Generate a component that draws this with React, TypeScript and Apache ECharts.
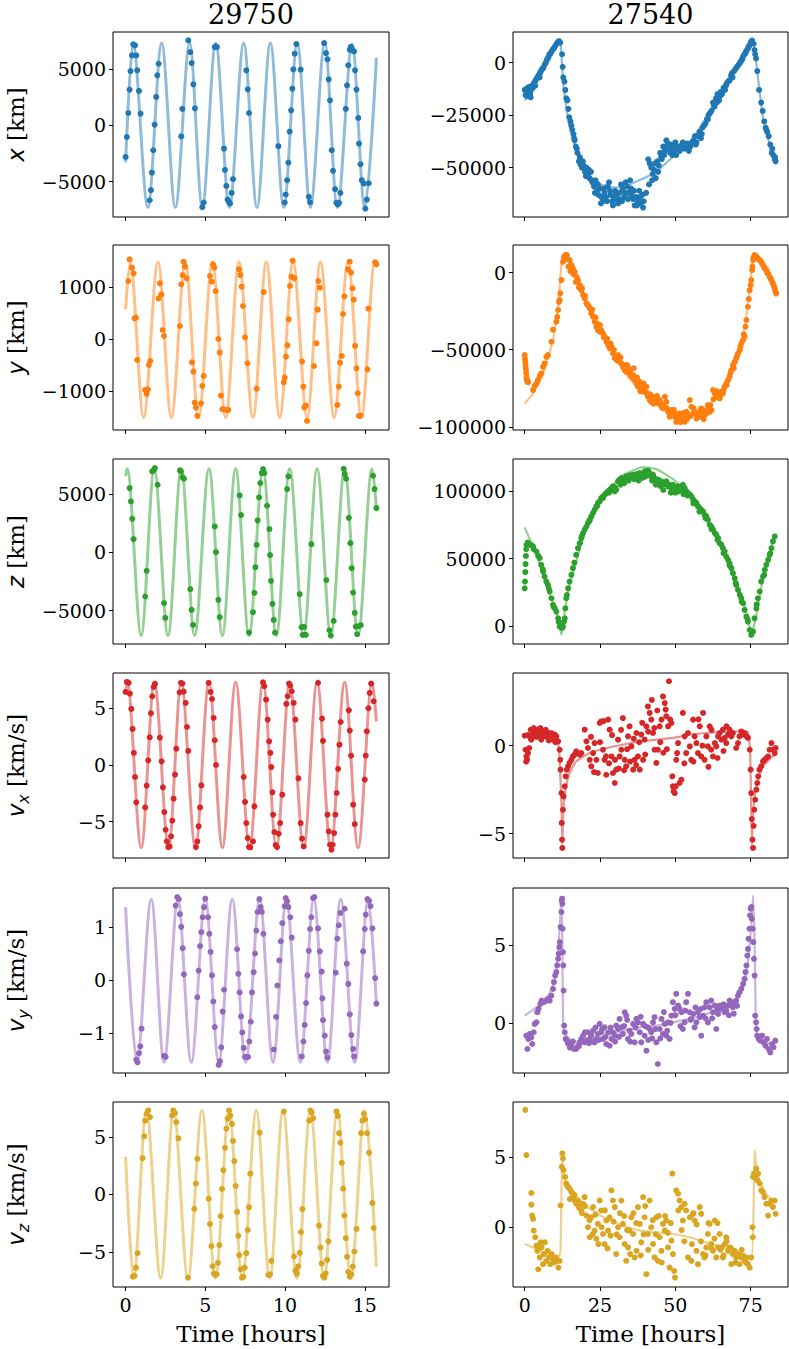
import { useEffect, useRef } from "react";
import * as echarts from "echarts";

// ---------------- DATA ----------------
// Left column (object 29750), time in hours
const xCurveL = [[0,-3300],[0.46,7300],[1.40,-7300],[2.26,7300],[3.12,-7300],[4.02,7300],[4.81,-7300],[5.65,7300],[6.51,-7300],[7.41,7300],[8.24,-7300],[9.08,7300],[9.92,-7300],[10.77,7300],[11.59,-7300],[12.49,7300],[13.28,-7300],[14.21,7200],[15.0,-7300],[15.73,6000]];
const xPtsL = [[0,-2810],[0.08,-1040],[0.17,1090],[0.25,3170],[0.31,4820],[0.40,6210],[0.48,7190],[0.59,7100],[0.67,6210],[0.73,4880],[0.84,3050],[0.94,1040],[1.51,-6660],[1.59,-5770],[1.65,-4200],[1.74,-2220],[1.82,60],[1.92,2520],[1.99,4440],[2.07,5470],[3.49,-980],[3.56,1450],[3.93,7550],[4.06,6510],[4.14,5530],[4.25,3640],[4.35,1510],[4.81,-7280],[4.90,-6860],[5.59,6950],[5.65,7010],[5.73,6950],[6.17,-2070],[6.23,-3970],[6.32,-5390],[6.40,-6600],[6.49,-6840],[6.55,-6950],[6.65,-6010],[6.74,-4790],[7.57,4880],[7.66,3200],[7.74,1090],[9.58,-1860],[9.98,-6860],[10.04,-6150],[10.13,-4880],[10.21,-3310],[10.29,-560],[10.38,1330],[10.46,3250],[10.52,4970],[10.61,6360],[10.71,7220],[10.98,4940],[11.49,-6360],[11.57,-6840],[12.45,7310],[12.57,6420],[12.66,5860],[12.74,4080],[12.82,2220],[12.93,-2220],[13.01,-4050],[13.14,-5680],[13.22,-6890],[13.31,-7040],[13.39,-6890],[13.47,-6010],[13.81,1450],[13.89,3550],[13.97,5330],[14.06,6720],[14.12,6980],[14.18,6810],[14.27,6600],[14.33,6570],[14.39,4880],[14.48,3170],[14.59,650],[14.64,-1630],[14.73,-3460],[14.81,-4880],[14.94,-5180],[15.04,-7400],[15.13,-6600],[15.25,-5150]];

const yCurveL = [[0,580],[0.29,1490],[1.13,-1505],[2.03,1490],[2.87,-1505],[3.74,1490],[4.58,-1505],[5.44,1490],[6.28,-1505],[7.11,1490],[7.99,-1505],[8.83,1490],[9.67,-1505],[10.50,1490],[11.38,-1505],[12.22,1490],[13.08,-1505],[13.95,1490],[14.79,-1505],[15.63,1490],[15.73,1460]];
const yPtsL = [[0.17,1122],[0.25,1538],[0.40,1378],[0.50,1269],[0.56,404],[0.65,417],[0.73,-397],[1.23,-974],[1.32,-1051],[1.40,-962],[1.46,-494],[1.55,-417],[2.07,788],[2.15,1077],[2.24,865],[2.32,179],[2.41,64],[3.41,256],[3.49,1058],[3.58,1237],[3.64,1494],[3.72,1397],[3.83,1173],[4.16,-442],[4.25,-622],[4.33,-1218],[4.41,-1314],[4.50,-1474],[4.73,-1231],[4.81,-897],[4.90,-705],[5.29,1218],[5.40,1109],[5.48,1442],[5.56,1378],[5.65,929],[5.82,6],[5.90,-256],[5.98,-1083],[6.07,-1346],[6.15,-1346],[6.32,-1359],[6.44,-1359],[7.11,1346],[7.20,1237],[7.28,1013],[7.36,641],[7.49,38],[7.64,-462],[8.22,-949],[8.66,910],[9.92,-827],[9.98,-737],[10.06,-333],[10.15,-115],[10.23,385],[10.31,1026],[10.40,1205],[10.48,1513],[10.59,1173],[11.07,-429],[11.15,-910],[11.21,-1308],[11.30,-1276],[11.38,-1571],[11.82,-513],[11.97,-77],[12.05,571],[12.09,1122],[12.18,994],[13.28,-1263],[13.37,-910],[13.45,-449],[13.56,-321],[13.64,487],[13.72,827],[13.95,1346],[14.06,1494],[14.14,1282],[14.23,981],[14.31,763],[14.39,-128],[14.48,-558],[14.56,-1038],[14.64,-1474],[14.73,-1468],[15.17,-577],[15.23,590],[15.65,1481],[15.73,1442]];

const zCurveL = [[0,6490],[0.10,7140],[0.98,-7140],[1.80,7140],[2.66,-7140],[3.49,7140],[4.33,-7140],[5.23,7140],[6.07,-7140],[6.90,7140],[7.74,-7140],[8.62,7140],[9.46,-7140],[10.29,7140],[11.17,-7140],[12.01,7140],[12.87,-7140],[13.74,7140],[14.58,-7140],[15.46,7140],[15.73,3710]];
const zPtsL = [[0.25,5486],[0.33,4343],[0.42,2857],[0.50,1114],[1.23,-3800],[1.32,-1600],[1.67,6914],[1.76,7029],[1.84,7200],[2.01,5771],[2.41,-4371],[2.49,-5629],[3.41,7000],[3.47,6914],[3.58,6400],[3.66,6286],[4.06,-3171],[4.14,-4943],[4.23,-6229],[5.59,2200],[5.67,0],[5.82,-4086],[5.90,-5571],[7.15,4857],[7.24,3171],[7.74,-6886],[7.99,-5143],[8.08,-3486],[8.14,-1286],[8.22,629],[8.28,2714],[8.37,4686],[8.45,5914],[8.54,6771],[8.62,7114],[8.70,6771],[8.87,3971],[9.02,1971],[9.06,-257],[9.12,-2457],[9.21,-4429],[9.29,-5800],[9.37,-6886],[10.13,5400],[10.21,6486],[10.92,-3600],[11.03,-6429],[11.11,-7086],[11.19,-6400],[11.30,-7086],[11.65,686],[12.59,-2400],[12.78,-6686],[12.87,-7143],[13.05,-5886],[13.68,7143],[13.74,6686],[13.83,6286],[14.00,2943],[14.10,771],[14.18,-1371],[14.27,-3457],[14.37,-5200],[14.44,-6371],[14.52,-7029],[14.60,-6343],[14.75,-6257],[15.52,6543],[15.61,5400],[15.73,3771]];

const vxCurveL = [[0,6.44],[0.10,7.3],[0.98,-7.3],[1.80,7.3],[2.70,-7.3],[3.49,7.3],[4.38,-7.3],[5.23,7.3],[6.07,-7.3],[6.90,7.3],[7.78,-7.3],[8.62,7.3],[9.46,-7.3],[10.29,7.3],[11.17,-7.3],[12.01,7.3],[12.87,-7.3],[13.74,7.3],[14.58,-7.3],[15.46,7.3],[15.73,3.85]];
const vxPtsL = [[0,6.44],[0.08,7.32],[0.19,7.24],[0.27,6.29],[0.36,4.94],[0.44,3.18],[0.52,1.06],[0.59,-1.06],[0.67,-3.29],[1.23,-3.74],[1.32,-1.82],[1.42,0.41],[1.51,2.44],[1.59,4.56],[1.67,6.06],[1.76,6.88],[1.84,7.15],[2.15,2.41],[2.26,0.32],[2.34,-1.97],[2.43,-4.15],[2.51,-5.71],[2.59,-6.74],[2.68,-7.24],[2.76,-7.18],[2.85,-6.29],[2.93,-4.91],[3.01,-2.97],[3.10,-0.85],[3.18,1.44],[3.39,6.41],[3.47,7.24],[3.56,7.18],[3.64,6.47],[3.77,5.47],[3.85,3.35],[3.93,1.24],[4.41,-7.24],[4.50,-6.74],[4.58,-5.41],[4.67,-3.74],[4.75,-1.79],[5.21,7.24],[5.33,6.44],[5.42,5.82],[5.52,4.15],[5.59,2.18],[5.67,0],[7.41,-1.06],[7.49,-3.26],[7.57,-5.12],[7.66,-6.44],[7.74,-7.24],[7.82,-7.26],[7.99,-6.74],[8.08,-3.65],[8.62,7.29],[8.70,6.94],[8.81,5.76],[8.91,4.0],[9.0,2.09],[9.08,1.06],[9.14,-0.18],[9.21,-2.41],[9.25,-4.38],[9.33,-5.91],[9.41,-7.06],[9.50,-7.24],[9.60,-6.06],[9.69,-5.12],[9.83,-2.62],[10.08,5.38],[10.17,6.06],[10.25,7.18],[10.33,7.0],[10.42,6.5],[10.54,5.47],[10.65,4.0],[10.84,-1.18],[10.98,-5.12],[11.07,-6.5],[11.17,-7.18],[12.07,7.24],[12.32,4.09],[12.38,2.12],[12.66,-4.38],[12.74,-5.85],[12.82,-7.03],[12.91,-7.47],[12.99,-7.03],[13.08,-6.0],[13.16,-4.38],[13.24,-2.47],[13.33,-0.35],[13.41,1.79],[13.49,3.79],[14.0,4.82],[14.06,3.03],[14.14,0.82],[14.27,-3.5],[14.37,-5.21],[15.0,-1.29],[15.06,0.82],[15.13,2.97],[15.23,5.0],[15.31,6.35],[15.40,7.18],[15.56,5.62]];

const vyCurveL = [[0,1.37],[0.71,-1.54],[1.61,1.52],[2.41,-1.54],[3.28,1.52],[4.12,-1.54],[5.0,1.52],[5.84,-1.54],[6.69,1.52],[7.53,-1.54],[8.41,1.52],[9.25,-1.54],[10.08,1.52],[10.96,-1.54],[11.80,1.52],[12.66,-1.54],[13.49,1.52],[14.37,-1.54],[15.21,1.52],[15.73,-0.45]];
const vyPtsL = [[0.67,-1.49],[0.75,-1.54],[0.84,-1.37],[0.92,-1.24],[1.0,-0.91],[2.41,-1.42],[2.51,-1.44],[3.14,1.40],[3.24,1.56],[3.33,1.52],[3.41,1.24],[3.49,1.0],[3.58,0.60],[3.66,0.11],[4.50,-0.32],[4.58,0.18],[4.67,0.64],[4.75,0.90],[4.83,1.18],[4.92,1.37],[5.0,1.53],[5.17,1.18],[5.25,0.87],[5.33,0.53],[5.42,0.09],[5.50,-0.40],[5.59,-0.88],[5.84,-1.59],[5.92,-1.52],[6.0,-1.26],[6.09,-0.59],[6.17,-0.18],[6.99,0.58],[7.07,0.12],[7.15,-0.23],[7.24,-0.68],[7.32,-0.98],[7.41,-1.27],[7.49,-1.44],[7.57,-1.44],[7.68,-1.44],[7.76,-1.15],[7.85,-0.78],[7.93,-0.23],[8.03,0.15],[8.12,0.50],[8.20,0.93],[8.28,1.28],[8.39,1.52],[8.47,1.37],[8.54,1.28],[8.64,0.87],[9.29,-1.30],[9.44,-0.69],[9.52,-0.10],[9.64,0.37],[9.73,0.73],[9.83,1.07],[9.98,1.39],[10.04,1.54],[10.13,1.48],[10.21,1.37],[10.33,1.18],[10.42,0.80],[11.05,-1.43],[11.15,-1.15],[11.23,-0.84],[11.32,-0.43],[11.40,0.09],[11.49,0.55],[11.57,0.96],[11.65,1.18],[11.76,1.54],[11.84,1.56],[12.07,0.97],[12.18,0.54],[12.30,0.16],[12.34,-0.34],[12.38,-0.75],[12.49,-1.04],[12.57,-1.34],[12.66,-1.45],[13.18,0.14],[13.28,0.78],[13.37,1.03],[13.47,1.26],[13.74,1.34],[13.87,0.31],[13.97,-0.07],[14.06,-0.64],[14.16,-1.03],[14.27,-1.29],[14.33,-1.43],[14.90,0.54],[15.0,0.96],[15.06,1.23],[15.17,1.52],[15.27,1.49],[15.36,1.39],[15.48,0.97],[15.65,0.04],[15.73,-0.44]];

const vzCurveL = [[0,3.27],[0.50,-7.29],[1.30,7.29],[2.20,-7.29],[3.01,7.29],[3.91,-7.29],[4.79,7.29],[5.63,-7.29],[6.49,7.29],[7.32,-7.29],[8.20,7.29],[9.04,-7.29],[9.87,7.29],[10.75,-7.29],[11.59,7.29],[12.45,-7.29],[13.28,7.29],[14.12,-7.29],[15.0,7.29],[15.73,-6.3]];
const vzPtsL = [[0.46,-7.14],[0.56,-7.08],[0.65,-6.36],[0.75,-5.10],[1.07,3.15],[1.17,5.04],[1.23,6.41],[1.32,7.0],[1.42,7.29],[1.53,6.71],[2.91,6.85],[2.99,7.29],[3.10,7.06],[3.18,6.27],[3.31,4.87],[3.91,-7.23],[4.31,-1.25],[4.41,0.93],[4.50,3.09],[5.21,-0.38],[5.29,-2.57],[5.38,-4.49],[5.46,-6.24],[5.54,-6.88],[5.63,-7.0],[5.71,-6.94],[5.79,-5.95],[5.88,-4.40],[5.96,-1.90],[6.05,0.47],[6.13,2.10],[6.23,4.05],[6.32,5.71],[6.40,6.56],[6.49,7.29],[6.57,6.85],[6.67,6.12],[6.74,4.64],[6.82,2.89],[6.90,0.73],[6.99,-1.52],[7.07,-3.59],[7.13,-5.28],[7.22,-6.50],[7.30,-7.23],[7.38,-7.14],[7.47,-6.36],[7.57,-5.10],[7.66,-3.09],[7.74,-1.11],[7.82,1.8],[8.41,5.36],[8.95,-7.0],[9.06,-6.94],[9.14,-5.77],[9.92,7.20],[10.56,-5.39],[10.65,-6.62],[10.73,-6.88],[10.82,-6.24],[10.92,-5.07],[11.0,-3.27],[11.09,-1.28],[11.51,6.41],[11.59,7.29],[11.67,7.11],[11.76,6.62],[12.13,-2.71],[12.22,-4.61],[12.30,-6.01],[12.38,-7.08],[12.47,-7.23],[12.55,-6.85],[12.64,-5.69],[12.72,-4.08],[13.22,7.20],[13.31,6.82],[13.39,5.31],[13.47,4.49],[13.56,2.74],[13.64,0.50],[13.72,-1.84],[13.81,-3.79],[13.89,-5.42],[13.97,-6.73],[14.06,-7.14],[14.16,-6.94],[14.25,-6.27],[14.35,-4.96],[14.48,-3.0],[14.77,5.31],[14.85,6.41],[14.94,7.0],[15.02,6.53],[15.15,5.31],[15.27,3.62],[15.48,-0.76],[15.56,-2.92]];

// Right column (object 27540)
const xCurveR = [[0,-18000],[3,-11000],[6,-4000],[9,3500],[11.3,10000],[12.0,8000],[12.7,-8400],[14.4,-26700],[17.1,-41700],[19.5,-49000],[21.6,-54000],[24.5,-57500],[27.1,-58800],[30,-59500],[33,-59000],[36.5,-57000],[39.3,-55200],[43.7,-52000],[49.2,-44900],[54.8,-38600],[60.3,-25900],[65.8,-11600],[71.3,1100],[75.2,10300],[75.8,10000],[76.9,-500],[78,-14000],[79.1,-25900],[82.4,-44900],[83.4,-48000]];
const xPtsR = [[0.0,-13000],[0.3,-15500],[0.6,-12500],[0.9,-16000],[1.0,-12000],[1.2,-14000],[1.5,-11500],[1.8,-15000],[2.0,-16500],[2.1,-13000],[2.4,-11000],[2.7,-12000],[3.0,-10000],[3.4,-9000],[3.5,-11000],[3.8,-8000],[4.2,-7000],[4.6,-6000],[5.0,-5000],[5.0,-7000],[5.4,-4000],[5.8,-3000],[6.2,-2500],[6.6,-1000],[7.0,0],[7.4,1500],[7.8,2500],[8.2,4000],[8.6,4500],[9.0,5500],[9.4,6500],[9.8,7000],[10.2,8000],[10.6,9000],[11.0,9800],[11.4,10300],[11.8,9500],[12.4,4000],[12.8,-7000],[13.2,-9000],[13.8,-17000],[14.2,-18000],[14.8,-26000],[15.2,-28000],[15.8,-32000],[16.2,-34000],[16.6,-37000],[17.0,-40000],[17.5,-43000],[18.0,-47000],[18.5,-48500],[19.0,-50000],[19.5,-49000],[20.0,-52000],[20.5,-50000],[21.0,-53000],[21.5,-55000],[22.0,-52000],[22.5,-57000],[23.0,-59000],[23.5,-56000],[24.0,-61000],[24.5,-63000],[25.0,-60000],[25.5,-64000],[26.0,-66000],[26.5,-62000],[27.0,-64000],[27.5,-59000],[28.0,-57000],[28.5,-63000],[29.0,-66000],[29.5,-64000],[30.0,-61000],[30.5,-65000],[31.0,-67000],[31.5,-62000],[32.0,-58000],[32.5,-60000],[33.0,-64000],[33.5,-57000],[34.0,-59000],[34.5,-62000],[35.0,-56000],[35.5,-63000],[36.0,-65000],[36.5,-68000],[37.0,-64000],[37.5,-66000],[38.0,-61000],[38.5,-67000],[39.0,-63000],[39.5,-66000],[41.0,-46000],[41.5,-48000],[42.0,-50000],[42.5,-53000],[43.0,-51000],[43.5,-55000],[44.0,-47000],[44.5,-49000],[45.0,-43000],[45.5,-46000],[46.0,-40000],[46.5,-42000],[47.0,-37000],[47.5,-38500],[48.0,-41000],[48.5,-39000],[49.0,-44000],[49.5,-42000],[50.0,-38000],[50.5,-41000],[51.0,-40000],[52.0,-39500],[53.0,-41000],[54.0,-38500],[55.0,-40000],[56.0,-37000],[56.5,-35000],[57.0,-38000],[58.0,-33000],[58.5,-36000],[59.0,-31000],[60.0,-29000],[60.5,-27000],[61.0,-25000],[62.0,-23000],[62.5,-19000],[63.0,-21000],[63.5,-17000],[64.0,-15000],[64.5,-18000],[65.0,-14000],[66.0,-12000],[66.5,-13000],[67.0,-10000],[68.0,-8500],[68.5,-6000],[69.0,-7000],[70.0,-3000],[71.0,-1000],[72.0,1000],[72.5,3000],[73.0,4000],[73.5,5500],[74.0,6500],[74.5,8000],[75.0,9500],[75.5,10500],[76.0,9000],[76.3,6000],[76.8,2000],[77.2,-4000],[77.8,-13000],[79.0,-23000],[79.5,-28000],[80.0,-31000],[80.5,-33000],[81.0,-35000],[81.5,-39000],[82.0,-43000],[82.5,-44000],[83.0,-46000],[83.3,-47000],
[12.6,-2000],[13.5,-13000],[14.5,-22000],[15.5,-30000],[16.4,-36000],[17.3,-41000],[18.3,-45000],[19.3,-47000],[20.3,-54000],[21.3,-51000],[22.2,-56000],[23.3,-62000],[24.3,-58000],[25.3,-67000],[26.3,-60000],[27.3,-66000],[28.3,-61000],[29.3,-68000],[30.3,-63000],[31.3,-65000],[32.3,-66000],[33.3,-62000],[34.3,-65000],[35.3,-60000],[36.3,-61000],[37.3,-68000],[38.3,-64000],[39.3,-69000],[40.3,-62000],[41.3,-58000],[42.3,-56000],[43.3,-48000],[44.3,-52000],[45.3,-45000],[46.3,-44000],[47.3,-40000],[48.3,-43000],[49.3,-40000],[50.3,-44000],[51.5,-42000],[52.5,-38000],[53.5,-40500],[54.5,-42000],[55.5,-38000],[56.8,-39000],[57.5,-35000],[58.8,-34000],[59.5,-30000],[60.8,-27000],[61.5,-24000],[62.8,-20000],[63.8,-19000],[64.8,-16000],[65.5,-15000],[66.8,-11000],[67.5,-9000],[68.8,-5000],[69.5,-4000],[70.5,-2000],[71.5,0],[72.3,2000],[73.3,4500],[74.3,7500],[75.2,10000],[76.5,4000],[78.5,-19000],[80.2,-32000],[82.2,-41000],[83.1,-45000]];

const yCurveR = [[0,-84900],[2.8,-78400],[6.1,-65400],[9.4,-43700],[11.1,-22100],[12.2,6000],[12.7,11500],[14.9,6000],[17.1,-2600],[21.6,-24200],[27.1,-43700],[32.6,-63200],[38.2,-76200],[43.7,-84900],[49.2,-90300],[54.8,-91400],[60.3,-87000],[65.8,-76200],[70.2,-58900],[73.6,-28600],[75.2,-400],[76.1,12100],[78.0,8200],[80.2,-400],[83.5,-15600]];
const yPtsR = [[0,-53500],[0.1,-56000],[0.2,-58000],[0.3,-60000],[0.4,-62500],[0.5,-65000],[0.6,-67500],[0.7,-69500],[0.9,-70800],[1.2,-71000],[2.8,-76200],[3.3,-73500],[3.9,-71900],[4.4,-69700],[5.0,-67000],[5.5,-65400],[6.1,-61100],[6.6,-58900],[7.2,-54600],[7.7,-53500],[8.9,-44800],[9.4,-37000],[10.5,-31800],[10.8,-28600],[11.1,-24200],[11.4,-19000],[11.6,-17800],[11.8,-13400],[12.2,-4800],[12.7,7100],[13.5,11500],[14.0,11500],[14.9,8200],[15.5,5000],[16.0,2800],[16.6,600],[17.2,-2600],[17.7,-4800],[18.3,-8000],[18.8,-11300],[19.4,-14500],[19.9,-16700],[20.5,-19900],[21.0,-21000],[21.6,-23200],[22.1,-26400],[22.7,-28600],[23.2,-31800],[23.8,-35100],[24.3,-37200],[24.9,-38300],[25.4,-37200],[26.0,-39400],[26.6,-41600],[27.1,-44800],[27.7,-47000],[28.2,-49100],[28.8,-48100],[29.3,-52400],[29.9,-55600],[30.4,-54600],[31.0,-53500],[31.5,-57800],[32.1,-58900],[32.6,-61100],[33.2,-63200],[33.7,-64300],[34.3,-62100],[34.9,-65400],[35.4,-67500],[36.0,-66500],[36.5,-69700],[37.1,-71900],[37.6,-74000],[38.2,-70800],[38.7,-74000],[39.3,-76200],[39.8,-77300],[40.4,-74000],[40.9,-80500],[41.5,-82700],[42.0,-83800],[42.6,-80500],[43.1,-81600],[43.7,-83800],[44.3,-84900],[44.8,-82700],[45.4,-87000],[45.9,-88100],[46.5,-80500],[47.0,-83800],[47.6,-90300],[48.1,-93500],[48.7,-89200],[49.2,-91400],[49.8,-93500],[50.3,-96800],[50.9,-94600],[51.4,-91400],[52.0,-95700],[52.5,-93500],[53.1,-96800],[53.7,-90300],[54.2,-92500],[54.8,-82700],[55.3,-87000],[55.9,-91400],[56.4,-90300],[57.0,-94600],[57.5,-91400],[58.1,-93500],[58.6,-88100],[59.2,-90300],[59.7,-92500],[60.3,-89200],[60.8,-85900],[61.4,-90300],[62.0,-89200],[62.5,-76200],[63.1,-78400],[63.6,-80500],[64.2,-79500],[64.7,-81600],[65.3,-77300],[65.8,-78400],[66.4,-74000],[66.9,-71900],[67.5,-69700],[68.0,-67500],[68.6,-63200],[69.1,-60000],[69.7,-57800],[70.2,-55600],[70.8,-52400],[71.4,-50200],[71.9,-45900],[72.5,-43700],[73.0,-41600],[73.6,-30700],[74.1,-22100],[74.7,-11300],[75.2,-4800],[75.5,1700],[75.8,8200],[76.3,11500],[76.9,10400],[77.4,9300],[78.0,8200],[78.5,7100],[79.1,5000],[79.7,2800],[80.2,1700],[80.8,-400],[81.3,-2600],[81.9,-4800],[82.4,-6900],[83.0,-10200],[83.5,-13400],
[13.0,10000],[13.8,9000],[14.5,4000],[15.2,1000],[16.2,-1000],[17.0,-6000],[18.0,-9500],[19.0,-10000],[20.0,-15000],[21.3,-22000],[22.4,-24000],[23.5,-29000],[24.0,-33000],[25.0,-34000],[26.3,-42000],[27.4,-43000],[28.5,-46000],[29.6,-50000],[30.7,-57000],[31.8,-55000],[32.9,-60000],[34.0,-60000],[35.1,-63000],[36.2,-62000],[37.3,-68000],[38.4,-77000],[39.5,-72000],[40.6,-78000],[41.7,-79000],[42.8,-85000],[43.9,-80000],[45.0,-84000],[46.1,-86000],[47.2,-88000],[48.3,-91000],[49.5,-89000],[50.6,-92000],[51.7,-97000],[52.8,-91000],[53.9,-95000],[55.0,-93000],[56.1,-88000],[57.2,-92000],[58.3,-90000],[59.4,-95000],[60.5,-91000],[61.6,-86000],[62.7,-82000],[63.8,-77000],[64.9,-80000],[66.0,-76000],[67.0,-73000],[68.3,-65000],[69.4,-62000],[70.5,-54000],[71.6,-48000],[72.7,-40000],[73.3,-35000],[74.4,-17000],[75.0,-8000],[75.6,4000],[76.0,10000],[76.6,11000],[77.7,8500],[78.8,6000],[79.4,4000],[80.5,0],[81.6,-3500],[82.7,-8500],[83.2,-12000]];

const zCurveR = [[0,73200],[3.9,52800],[7.2,30500],[10.5,10700],[12.2,-6700],[13.3,10700],[14.9,30500],[17.1,47900],[20.5,73900],[23.8,88800],[27.1,98700],[32.6,112000],[39.3,118000],[43.7,116500],[49.2,109000],[54.8,97500],[60.3,81400],[65.8,57800],[71.35,25600],[74.1,5700],[75.2,-6700],[76.9,8200],[79.1,35500],[83.0,67700]];
const zPtsR = [[0.0,28000],[0.1,33000],[0.2,40000],[0.3,46000],[0.4,52000],[0.5,57000],[0.6,60000],[1.0,62000],[1.7,60500],[2.2,60000],[2.8,59000],[3.9,55300],[5.0,50400],[5.5,45400],[6.1,40400],[6.6,36700],[7.2,33000],[7.7,30500],[8.3,25600],[8.9,20600],[9.4,15600],[10.0,13100],[10.5,10700],[11.1,5700],[11.6,-500],[12.2,-500],[12.7,-500],[13.3,5700],[13.5,13100],[13.8,20600],[14.4,28000],[14.9,33000],[15.5,38000],[16.0,42900],[17.1,52800],[17.7,57800],[18.3,61500],[18.8,65300],[19.4,69000],[19.9,71500],[20.5,73900],[21.0,76400],[21.6,78900],[22.1,81400],[22.7,83900],[23.2,86300],[23.8,88800],[24.3,91300],[24.9,92500],[25.4,95000],[26.0,96300],[26.6,97500],[27.1,98700],[27.7,100000],[28.2,101200],[28.8,102500],[29.3,103700],[29.9,100000],[30.4,101200],[31.0,107400],[31.5,108700],[32.1,109900],[32.6,108700],[33.2,109900],[33.7,111100],[34.3,110400],[34.9,111900],[35.4,111100],[36.0,112400],[36.5,111900],[37.1,112900],[37.6,111100],[38.2,113600],[38.7,112400],[39.3,112900],[39.8,114900],[40.4,113600],[40.9,115400],[41.5,113600],[42.0,111100],[42.6,112400],[43.1,109900],[43.7,107400],[44.3,108700],[44.8,106200],[45.4,107400],[45.9,104900],[46.5,106200],[47.0,107400],[47.6,103700],[48.1,104900],[48.7,102500],[49.2,104900],[49.8,102500],[50.3,101200],[50.9,103700],[51.4,102500],[52.0,101200],[52.5,104900],[53.1,102500],[53.7,100000],[54.2,98700],[54.8,97500],[55.3,96300],[55.9,93800],[56.4,92500],[57.0,91300],[57.5,88800],[58.1,87600],[58.6,86300],[59.2,85100],[59.7,82600],[60.3,81400],[60.8,78900],[61.4,75200],[62.0,73900],[62.5,71500],[63.1,69000],[63.6,67700],[64.2,65300],[64.7,61500],[65.3,60300],[65.8,57800],[66.4,55300],[66.9,51600],[67.5,49100],[68.0,46600],[68.6,42900],[69.1,39200],[69.7,35500],[70.2,30500],[70.8,26800],[71.4,23100],[71.9,20600],[72.5,16900],[73.0,11900],[73.6,6900],[74.1,3200],[74.7,-3000],[75.2,-6700],[75.8,-4200],[76.3,5700],[76.9,13100],[77.4,20600],[78.0,25600],[78.5,33000],[79.1,36700],[79.7,41700],[80.2,45400],[80.8,49100],[81.3,52800],[81.9,57800],[82.4,62800],[83.0,66500],
[28.0,99000],[30.0,103000],[31.8,105000],[33.0,106000],[34.5,108000],[36.3,109000],[37.8,108000],[39.0,110000],[40.0,111000],[41.0,112000],[42.3,108000],[43.5,105000],[45.0,104000],[46.0,101000],[47.3,105000],[48.5,99000],[50.0,99000],[51.0,100000],[52.7,98000],[54.0,97000],[56.0,91000],[58.0,85000],[60.0,80000],[62.0,72000],[64.0,64000],[66.0,54000],[68.0,45000],[70.0,32000],[72.0,18000],[74.0,5000],[75.5,-5000],[77.0,16000],[79.5,38000],[81.5,54000],[14.0,23000],[16.5,47000],[19.0,67000],[21.5,78000],[24.0,89000],[26.0,95000],[3.0,57000],[4.5,52000],[6.0,42000],[8.0,28000],[9.7,14000],[11.3,3000],[12.4,-1500],[13.0,3000]];

const vxCurveR = [[0,0.68],[5,0.62],[9.4,0.53],[11.1,0.15],[11.6,-0.8],[12.2,-3.26],[12.5,-5.6],[12.9,-3.45],[13.8,-2.3],[14.9,-1.55],[17.1,-0.89],[21.6,-0.42],[27.1,-0.13],[32.6,0.06],[38.2,0.25],[43.7,0.34],[49.2,0.44],[54.8,0.63],[60.3,0.72],[65.8,0.78],[71.3,0.81],[74.1,0.76],[74.9,-0.8],[75.4,-5.6],[75.9,-3.64],[76.9,-2.31],[79.1,-1.17],[83.0,-0.51]];
const vxPtsR = [[0,0.57],[0.3,-0.23],[0.5,-0.9],[0.6,-0.61],[0.8,-0.8],[1.0,0.6],[1.1,-0.42],[1.5,-0.13],[1.9,0.44],[2.0,0.9],[2.2,0.34],[2.8,0.72],[3.0,1.0],[3.3,0.53],[3.9,0.81],[4.0,0.5],[4.4,0.91],[5.0,0.63],[5.2,1.0],[5.5,0.34],[6.0,0.8],[6.1,0.53],[6.6,0.81],[7.0,0.9],[7.2,0.63],[7.7,0.44],[8.0,0.3],[8.3,0.72],[8.9,0.53],[9.0,0.7],[9.4,0.34],[10.0,0.63],[10.2,0.2],[10.5,0.53],[11.1,0.25],[11.6,-0.23],[11.8,-0.80],[11.9,-1.36],[12.2,-2.69],[12.3,-4.39],[12.4,-5.34],[12.5,-5.81],[12.7,-3.64],[12.9,-2.88],[13.3,-2.31],[13.6,-1.74],[14.0,-1.36],[14.4,-1.17],[14.9,-0.98],[15.5,-0.80],[16.0,-0.61],[16.6,-0.51],[17.1,-0.32],[17.7,-0.42],[18.3,-0.51],[18.8,-0.42],[19.9,0.91],[20.5,0.25],[21.0,-0.13],[21.6,-0.80],[22.0,0.5],[22.1,-1.17],[22.7,-0.42],[23.0,-1.5],[23.2,0.15],[23.8,-0.80],[24.3,-1.55],[24.9,1.29],[25.0,0.2],[25.4,1.38],[26.0,-0.23],[26.2,1.4],[26.5,-0.80],[27.0,-0.6],[27.1,-1.65],[27.7,1.48],[28.0,-1.0],[28.2,0.91],[28.8,-0.61],[29.0,0.6],[29.3,-1.55],[29.9,-2.12],[30.0,-0.8],[30.4,-1.36],[31.0,0.34],[31.2,-1.3],[31.5,-0.61],[32.0,0.9],[32.1,-0.23],[32.6,1.57],[33.0,-1.4],[33.2,-0.80],[33.7,-1.17],[34.0,-0.2],[34.3,0.53],[34.8,1.10],[35.0,-0.9],[35.4,-0.04],[36.0,-1.36],[36.2,0.4],[36.5,-0.80],[37.0,-1.1],[37.1,0.72],[37.6,-0.61],[38.0,0.2],[38.2,-1.36],[38.7,0.63],[39.0,1.3],[39.3,-0.80],[39.8,0.34],[40.0,-0.5],[40.4,1.10],[40.9,2.23],[41.0,0.8],[41.5,1.86],[42.0,1.48],[42.2,2.6],[42.6,0.72],[43.0,1.0],[43.1,-0.23],[43.7,-0.98],[44.0,2.0],[44.2,-0.23],[44.8,1.10],[45.0,0.2],[45.4,1.48],[45.9,2.80],[46.0,-0.4],[46.5,2.42],[46.8,2.05],[47.0,1.67],[47.2,-0.2],[47.6,1.10],[47.9,3.66],[48.3,1.48],[48.7,1.29],[49.0,-1.74],[49.2,-2.31],[49.4,-2.59],[49.8,-2.69],[50.1,-2.31],[50.3,-0.80],[50.6,-0.42],[50.9,0.15],[51.4,-2.12],[52.0,-1.93],[52.5,1.86],[53.0,-1.0],[53.1,0.53],[53.6,-0.42],[54.2,0.72],[54.8,-0.04],[55.3,-0.80],[55.9,1.48],[56.0,-0.9],[56.4,0.53],[57.0,0.15],[57.5,-0.42],[57.7,1.5],[58.1,1.10],[58.6,-0.61],[59.0,0.0],[59.2,1.86],[59.7,-0.80],[60.3,0.53],[60.8,-0.04],[61.0,-1.2],[61.4,1.10],[61.9,-0.23],[62.0,0.9],[62.5,-0.61],[63.1,0.15],[63.6,-0.04],[64.0,-0.7],[64.2,0.53],[64.7,0.72],[65.3,0.34],[65.8,0.91],[66.0,-0.3],[66.4,0.44],[66.9,0.15],[67.0,1.1],[67.5,0.63],[68.0,0.91],[68.6,0.53],[69.1,0.72],[70.2,-0.13],[70.8,0.15],[71.3,0.53],[71.9,0.81],[72.5,0.63],[73.0,0.72],[73.6,0.53],[74.1,0.44],[74.7,-0.23],[75.0,-1.36],[75.2,-2.69],[75.4,-4.17],[75.6,-5.34],[75.8,-5.81],[76.0,-4.55],[76.2,-3.64],[76.5,-3.07],[76.9,-2.50],[77.2,-2.12],[77.5,-1.74],[77.9,-1.36],[78.5,-1.17],[79.1,-0.89],[79.6,-0.80],[80.2,-0.70],[80.8,-0.61],[81.3,-0.23],[81.9,0.15],[82.4,-0.23],[83.0,-0.42],[83.3,-0.13]];

const vyCurveR = [[0,0.47],[3.9,1.01],[7.2,1.55],[9.4,2.41],[10.5,3.49],[11.6,6.08],[12.2,8.12],[12.5,5.22],[12.7,0.47],[13.1,-0.60],[14.9,-1.03],[18.3,-1.25],[21.6,-1.14],[27.1,-0.82],[32.6,-0.50],[38.2,-0.28],[43.7,-0.17],[49.2,0.04],[54.8,0.26],[60.3,0.58],[65.8,0.91],[70.2,1.55],[72.5,2.41],[74.1,3.92],[75.2,6.29],[75.8,8.23],[76.3,5.22],[76.7,0.47],[77.1,-0.82],[80.2,-1.25],[83.0,-1.47]];
const vyPtsR = [[0.55,-0.82],[0.9,-1.68],[1.2,-1.03],[1.66,-0.71],[2.2,-0.93],[2.5,-1.36],[3.0,-0.60],[3.3,-0.06],[3.9,0.04],[4.2,0.69],[4.6,0.91],[5.2,1.23],[5.6,1.44],[6.1,1.34],[6.6,1.38],[7.2,1.44],[7.7,1.55],[8.3,1.44],[8.85,1.77],[9.4,2.20],[9.7,2.63],[10.1,3.06],[10.5,3.28],[10.8,3.71],[11.1,4.14],[11.3,4.46],[11.5,4.89],[11.7,5.22],[11.9,6.19],[12.2,7.16],[12.3,7.91],[12.4,8.02],[12.5,7.69],[12.6,6.08],[12.7,4.57],[12.8,3.71],[12.9,2.09],[13.1,-0.17],[13.3,-0.60],[13.6,-1.03],[14.0,-1.14],[14.3,-1.3],[14.7,-1.36],[15.0,-1.6],[15.5,-1.47],[16.0,-1.2],[16.3,-1.68],[17.1,-1.68],[17.7,-1.47],[18.0,-1.5],[18.3,-1.25],[18.8,-1.03],[19.0,-1.2],[19.4,-0.82],[19.9,-1.25],[20.0,-0.6],[20.5,-1.14],[21.0,-0.60],[21.3,-1.3],[21.6,-1.03],[22.1,-0.82],[22.4,-1.2],[22.7,-0.50],[23.2,-1.25],[23.5,-0.3],[23.8,-1.03],[24.3,-0.71],[24.6,-1.1],[24.9,-0.06],[25.4,-0.60],[25.7,-0.4],[26.0,-1.03],[26.5,-0.28],[26.8,-0.9],[27.1,-1.36],[27.7,-0.60],[28.2,-1.47],[28.5,-0.3],[28.8,-1.03],[29.3,-0.60],[29.9,-0.82],[30.0,-1.2],[30.4,-0.17],[31.0,-0.39],[31.3,-0.9],[31.5,0.26],[32.1,-0.28],[32.6,-0.71],[33.0,-0.2],[33.2,0.69],[33.7,0.47],[34.0,0.2],[34.3,-1.03],[34.8,-0.50],[35.0,-1.2],[35.4,-0.71],[36.0,-0.06],[36.5,-1.25],[36.8,-0.3],[37.1,0.26],[37.6,0.04],[38.2,-0.60],[38.5,0.4],[38.7,-1.25],[39.3,-0.06],[39.8,-0.82],[40.0,-0.2],[40.4,-1.79],[40.9,-0.28],[41.0,-1.1],[41.5,-0.39],[42.0,-0.60],[42.3,-1.0],[42.6,0.04],[43.1,0.37],[43.4,-0.4],[43.7,-1.25],[44.2,-2.65],[44.8,-0.39],[45.0,-1.0],[45.4,0.26],[45.9,-0.71],[46.2,0.7],[46.5,-0.06],[47.0,-0.82],[47.3,-0.5],[47.6,0.04],[48.1,-1.03],[48.4,0.0],[48.7,0.47],[49.2,1.34],[49.8,0.91],[50.0,0.5],[50.3,1.88],[50.9,1.12],[51.4,0.91],[51.7,-0.2],[52.0,0.69],[52.5,-0.39],[53.1,0.04],[53.3,0.8],[53.6,1.34],[54.2,1.88],[54.8,0.69],[55.0,0.2],[55.3,0.26],[55.9,0.58],[56.4,-0.28],[56.7,1.0],[57.0,0.04],[57.5,0.69],[58.1,0.37],[58.4,0.9],[58.6,-0.82],[59.2,0.47],[59.7,1.01],[60.0,0.3],[60.3,1.34],[60.8,0.04],[61.4,1.01],[61.9,1.44],[62.2,0.3],[62.5,0.69],[63.1,1.12],[63.6,-0.39],[64.0,0.9],[64.2,0.58],[64.7,1.12],[65.3,0.91],[65.8,1.01],[66.0,1.2],[66.4,0.69],[66.9,0.80],[67.5,1.12],[67.8,0.5],[68.0,1.44],[68.6,1.34],[69.1,1.01],[69.4,0.6],[69.7,1.23],[70.2,1.44],[70.5,1.1],[70.8,1.77],[71.3,1.98],[71.9,2.20],[72.5,2.52],[73.0,2.84],[73.3,3.28],[73.6,3.71],[73.9,4.35],[74.1,4.78],[74.3,5.43],[74.6,6.08],[74.8,6.94],[75.0,7.37],[75.2,7.48],[75.4,6.72],[75.7,6.08],[75.9,5.22],[76.1,4.14],[76.3,3.06],[76.5,0.47],[76.8,0.04],[77.0,-0.39],[77.2,-0.82],[77.7,-1.03],[78.2,-1.14],[78.8,-0.82],[79.3,-1.25],[79.9,-1.47],[80.4,-1.03],[81.0,-1.68],[81.5,-1.90],[82.1,-1.36],[82.6,-1.57],[83.2,-1.14]];

const vzCurveR = [[0,-1.19],[2.8,-1.43],[7.2,-1.90],[11.1,-2.14],[11.9,-1.67],[12.4,5.0],[12.7,4.05],[13.8,3.10],[16.0,2.62],[18.3,1.90],[21.6,1.31],[27.1,0.60],[32.6,0.12],[38.2,-0.24],[43.7,-0.36],[49.2,-0.48],[54.8,-0.71],[60.3,-1.07],[65.8,-1.43],[71.3,-1.90],[75.2,-2.26],[76.0,1.67],[76.3,5.48],[76.9,4.29],[78.0,3.33],[80.2,2.38],[83.0,1.67]];
const vzPtsR = [[0.2,8.33],[0.55,5.12],[2.2,2.43],[2.2,1.60],[2.5,0.83],[2.8,0.60],[3.0,-0.24],[3.5,-0.71],[3.9,-1.31],[4.2,-1.67],[4.5,-2.98],[5.0,-2.14],[5.3,-1.07],[5.6,-1.43],[6.1,-2.62],[6.4,-1.90],[6.7,-1.07],[7.2,-2.38],[7.6,-1.67],[8.1,-2.14],[8.5,-2.62],[9.0,-1.90],[9.4,-2.26],[9.8,-2.50],[10.3,-2.14],[10.7,-2.38],[11.2,-2.86],[11.6,-2.38],[11.9,1.55],[12.3,4.29],[12.5,5.24],[12.7,4.88],[12.9,4.05],[13.4,3.57],[13.8,3.10],[14.0,3.0],[14.4,2.86],[14.9,2.74],[15.0,2.0],[15.5,2.50],[16.0,2.14],[16.5,2.3],[16.6,1.90],[17.1,1.67],[17.7,1.90],[18.0,1.4],[18.3,1.55],[18.8,1.19],[19.0,1.0],[19.4,1.67],[19.9,2.14],[20.0,1.5],[20.5,0.83],[21.0,0],[21.5,0.5],[21.6,-0.71],[22.1,0.71],[22.5,-0.5],[22.7,1.43],[23.2,-0.24],[23.5,0.9],[23.8,-0.83],[24.3,0.24],[24.5,-1.2],[24.9,1.90],[25.4,1.19],[25.5,0.0],[26.0,-0.48],[26.5,-1.19],[26.6,1.2],[27.1,0.48],[27.5,-1.5],[27.7,-0.24],[28.2,0.71],[28.5,-0.6],[28.8,2.62],[29.3,1.90],[29.5,0.4],[29.9,1.43],[30.4,-1.90],[30.5,-0.5],[31.0,0],[31.5,-0.71],[31.6,1.0],[32.1,1.90],[32.6,0.24],[33.0,0.8],[33.2,-1.19],[33.7,-2.38],[34.0,-0.2],[34.3,-1.43],[34.8,-0.24],[35.0,-1.9],[35.4,0.71],[36.0,-0.48],[36.1,1.0],[36.5,-2.14],[37.0,0.3],[37.1,-1.67],[37.6,1.43],[38.2,0.24],[38.5,-2.0],[38.7,-1.07],[39.3,2.14],[39.5,-0.5],[39.8,0.71],[40.0,1.5],[40.4,-3.33],[40.9,-0.48],[41.0,-1.6],[41.5,1.90],[42.0,0],[42.5,0.5],[42.6,-1.19],[43.1,-2.14],[43.5,-0.5],[43.7,0.71],[44.2,-2.38],[44.5,0.8],[44.8,-0.71],[45.4,-1.67],[45.5,-2.5],[45.9,0.24],[46.5,-0.24],[46.6,0.8],[47.0,0.48],[47.5,-0.4],[47.6,-1.43],[48.1,-2.86],[48.5,0.3],[48.7,-0.95],[49.0,3.81],[49.2,-1.90],[49.6,-3.10],[49.9,-3.57],[50.3,2.62],[50.9,2.38],[51.0,1.2],[51.4,1.90],[52.0,1.43],[52.1,-0.2],[52.5,0.48],[53.0,-1.0],[53.1,1.67],[53.6,1.19],[54.2,-2.14],[54.8,0.71],[55.3,-2.38],[55.5,-1.2],[55.9,0.95],[56.0,1.0],[56.4,0.48],[57.0,-1.67],[57.1,0.2],[57.5,-2.62],[58.1,1.43],[58.5,-1.0],[58.6,0.95],[59.2,-1.90],[59.7,-2.14],[60.0,-2.0],[60.3,-1.43],[60.8,-0.48],[61.0,0.3],[61.4,0.24],[61.9,-1.19],[62.0,-1.5],[62.5,-1.67],[63.0,-0.8],[63.1,0.48],[63.6,-2.14],[64.0,0.3],[64.2,-1.43],[64.7,-0.48],[65.0,-1.6],[65.3,-1.43],[65.8,-2.14],[66.0,-2.0],[66.4,-1.19],[66.9,-0.71],[67.0,-1.0],[67.5,-1.67],[68.0,-1.43],[68.5,-1.5],[68.6,-2.62],[69.1,-1.90],[69.7,-1.67],[70.0,-2.5],[70.2,-2.14],[70.8,-1.90],[71.3,-2.62],[71.9,-2.14],[72.0,-1.6],[72.5,-2.02],[73.0,-2.38],[73.5,-2.5],[73.6,-2.14],[74.1,-2.62],[74.7,-2.86],[75.2,-2.14],[75.6,0],[75.7,-0.71],[75.8,3.57],[76.1,3.81],[76.4,3.57],[76.9,4.17],[77.2,3.33],[77.5,3.81],[78.0,3.10],[78.5,2.62],[79.1,2.50],[79.6,2.14],[80.2,1.67],[80.8,0.83],[81.3,1.67],[81.9,1.90],[82.4,1.43],[83.0,1.90],[83.3,0.95]];

// Tick values
const xTicksL = [0, 5, 10, 15];
const xTicksR = [0, 25, 50, 75];
const titles = ["29750", "27540"];

// ---------------- LAYOUT / STYLE ----------------
const SERIF = "DejaVu Serif";
const MATH = "DejaVu Sans";
const TICK_FS = 19;
const LABEL_FS = 23;
const TITLE_FS = 27;
const ROW_TOPS = [32, 245, 459, 673, 888, 1102];
const ROW_H = 185;
const COL_LEFT = [113, 513];
const COL_W = [276, 275];
const X_RANGE = [[-0.79, 16.52], [-3.88, 87.4]];

const COLORS = ["#1f77b4", "#ff7f0e", "#2ca02c", "#d62728", "#9467bd", "#daa520"];

type Panel = {
  curve: number[][];
  pts: number[][];
  yMin: number;
  yMax: number;
  yTicks: number[];
};

const leftPanels: Panel[] = [
  { curve: xCurveL, pts: xPtsL, yMin: -8150, yMax: 8290, yTicks: [-5000, 0, 5000] },
  { curve: yCurveL, pts: yPtsL, yMin: -1745, yMax: 1815, yTicks: [-1000, 0, 1000] },
  { curve: zCurveL, pts: zPtsL, yMin: -7865, yMax: 7976, yTicks: [-5000, 0, 5000] },
  { curve: vxCurveL, pts: vxPtsL, yMin: -8.2, yMax: 8.11, yTicks: [-5, 0, 5] },
  { curve: vyCurveL, pts: vyPtsL, yMin: -1.741, yMax: 1.729, yTicks: [-1, 0, 1] },
  { curve: vzCurveL, pts: vzPtsL, yMin: -8.04, yMax: 8.02, yTicks: [-5, 0, 5] },
];
const rightPanels: Panel[] = [
  { curve: xCurveR, pts: xPtsR, yMin: -73500, yMax: 14600, yTicks: [-50000, -25000, 0] },
  { curve: yCurveR, pts: yPtsR, yMin: -102100, yMax: 18000, yTicks: [-100000, -50000, 0] },
  { curve: zCurveR, pts: zPtsR, yMin: -13390, yMax: 124030, yTicks: [0, 50000, 100000] },
  { curve: vxCurveR, pts: vxPtsR, yMin: -6.38, yMax: 4.13, yTicks: [-5, 0] },
  { curve: vyCurveR, pts: vyPtsR, yMin: -3.23, yMax: 8.71, yTicks: [0, 5] },
  { curve: vzCurveR, pts: vzPtsR, yMin: -4.24, yMax: 8.89, yTicks: [0, 5] },
];

const yNames = [
  "{m|x}{t| [km]}",
  "{m|y}{t| [km]}",
  "{m|z}{t| [km]}",
  "{m|v}{s|x}{t| [km/s]}",
  "{m|v}{s|y}{t| [km/s]}",
  "{m|v}{s|z}{t| [km/s]}",
];

const fmt = (v: number) => (v < 0 ? "\u2212" + Math.abs(v) : String(v));

function buildOption() {
  const grid: any[] = [];
  const xAxis: any[] = [];
  const yAxis: any[] = [];
  const series: any[] = [];
  const graphic: any[] = [];

  for (let col = 0; col < 2; col++) {
    const panels = col === 0 ? leftPanels : rightPanels;
    for (let row = 0; row < 6; row++) {
      const idx = grid.length;
      const p = panels[row];
      const color = COLORS[row];
      grid.push({
        left: COL_LEFT[col],
        top: ROW_TOPS[row],
        width: COL_W[col],
        height: ROW_H,
        show: true,
        borderColor: "#000",
        borderWidth: 1,
        backgroundColor: "transparent",
        containLabel: false,
        outerBoundsMode: "none",
      });
      const xt = col === 0 ? xTicksL : xTicksR;
      xAxis.push({
        type: "value",
        gridIndex: idx,
        position: "bottom",
        min: X_RANGE[col][0],
        max: X_RANGE[col][1],
        axisLine: { show: false, onZero: false },
        splitLine: { show: false },
        axisTick: {
          show: true,
          inside: false,
          length: 4,
          customValues: xt,
          lineStyle: { color: "#000", width: 1 },
        },
        axisLabel: {
          show: row === 5,
          customValues: xt,
          formatter: fmt,
          color: "#000",
          fontFamily: SERIF,
          fontSize: TICK_FS,
          margin: 8,
        },
      });
      yAxis.push({
        type: "value",
        gridIndex: idx,
        position: "left",
        min: p.yMin,
        max: p.yMax,
        axisLine: { show: false, onZero: false },
        splitLine: { show: false },
        axisTick: {
          show: true,
          inside: false,
          length: 4,
          customValues: p.yTicks,
          lineStyle: { color: "#000", width: 1 },
        },
        axisLabel: {
          show: true,
          customValues: p.yTicks,
          formatter: fmt,
          color: "#000",
          fontFamily: SERIF,
          fontSize: TICK_FS,
          margin: 7,
        },
      });
      series.push({
        type: "line",
        xAxisIndex: idx,
        yAxisIndex: idx,
        data: p.curve,
        symbol: "none",
        showSymbol: false,
        smooth: col === 0 ? 0.33 : 0.15,
        smoothMonotone: col === 0 ? "x" : undefined,
        silent: true,
        z: 1,
        lineStyle: { color, width: col === 0 ? 3 : 2.2, opacity: 0.5 },
      });
      series.push({
        type: "scatter",
        xAxisIndex: idx,
        yAxisIndex: idx,
        data: p.pts,
        symbol: "circle",
        symbolSize: 6,
        silent: true,
        z: 2,
        itemStyle: { color, opacity: 1, borderWidth: 0 },
      });
      if (col === 0) {
        graphic.push({
          type: "text",
          x: 16,
          y: ROW_TOPS[row] + ROW_H / 2,
          rotation: Math.PI / 2,
          style: {
            text: yNames[row],
            align: "center",
            verticalAlign: "middle",
            fill: "#000",
            fontFamily: SERIF,
            fontSize: LABEL_FS,
            rich: {
              m: { fontFamily: MATH, fontStyle: "italic", fontSize: LABEL_FS, fill: "#000", lineHeight: 30, verticalAlign: "middle" },
              s: { fontFamily: MATH, fontStyle: "italic", fontSize: 16, fill: "#000", lineHeight: 30, verticalAlign: "bottom" },
              t: { fontFamily: SERIF, fontSize: LABEL_FS, fill: "#000", lineHeight: 30, verticalAlign: "middle" },
            },
          },
        });
      }
    }
    const cx = COL_LEFT[col] + COL_W[col] / 2;
    graphic.push({
      type: "text",
      x: cx,
      y: 14,
      style: { text: titles[col], align: "center", verticalAlign: "middle", fill: "#000", fontFamily: SERIF, fontSize: TITLE_FS },
    });
    graphic.push({
      type: "text",
      x: cx,
      y: 1334,
      style: { text: "Time [hours]", align: "center", verticalAlign: "middle", fill: "#000", fontFamily: SERIF, fontSize: LABEL_FS },
    });
  }

  return {
    animation: false,
    backgroundColor: "#fff",
    grid,
    xAxis,
    yAxis,
    series,
    graphic,
  };
}

export default function App() {
  const ref = useRef<HTMLDivElement>(null);
  useEffect(() => {
    if (!ref.current) return;
    const chart = echarts.init(ref.current, null, { renderer: "svg" });
    chart.setOption(buildOption() as any);
    return () => chart.dispose();
  }, []);
  return (
    <div
      ref={ref}
      style={{ position: "absolute", left: 0, top: 0, width: 789, height: 1349, background: "#fff" }}
    />
  );
}
